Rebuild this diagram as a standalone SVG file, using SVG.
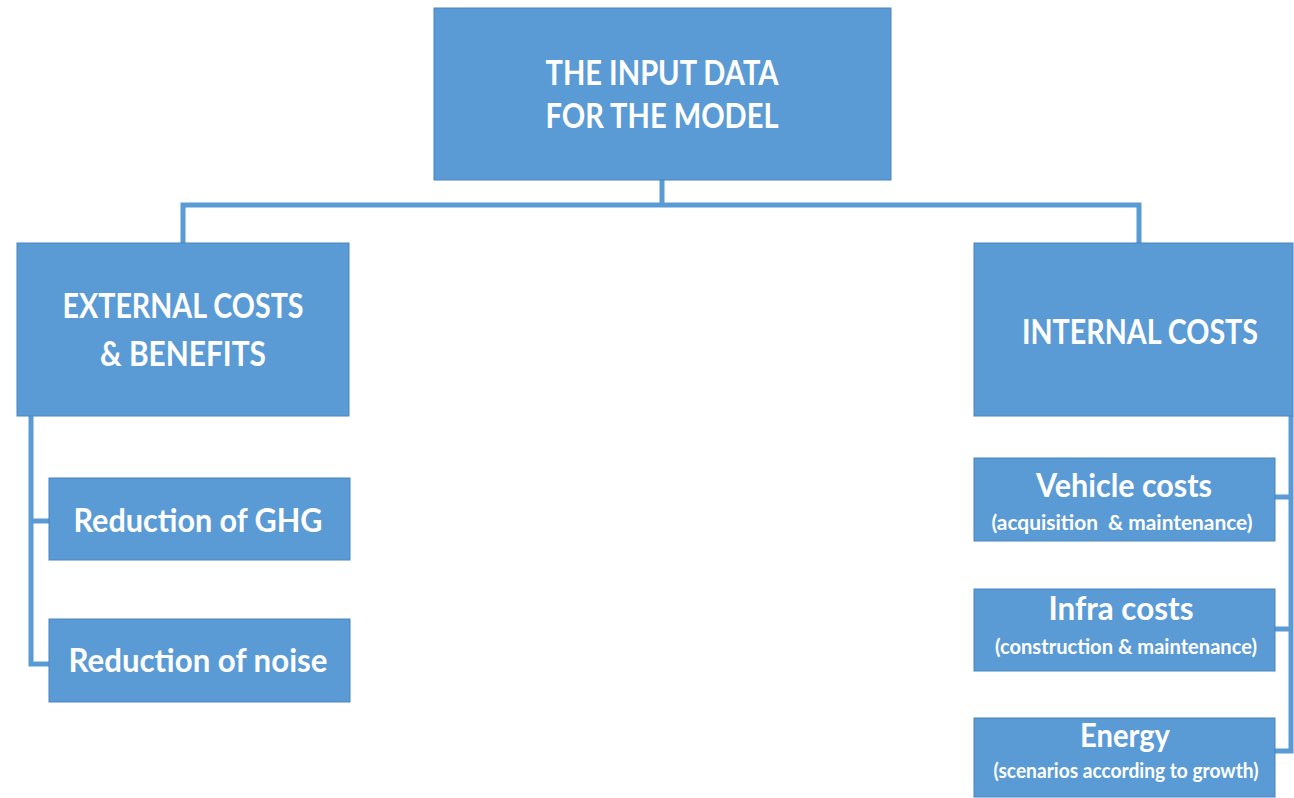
<svg xmlns="http://www.w3.org/2000/svg" width="1294" height="798" viewBox="0 0 1294 798">
  <style>
    .box { fill: #5b9bd5; stroke: #4a84bd; stroke-width: 1; }
    .link { fill: none; stroke: #5b9bd5; stroke-width: 5; stroke-linejoin: miter; }
    text { font-family: Lato, "Open Sans", "Liberation Sans", sans-serif; font-weight: bold; fill: #ffffff; text-anchor: middle; white-space: pre; }
    .big { font-size: 35px; }
    .mid { font-size: 32px; }
    .small { font-size: 21px; }
  </style>
  <rect width="1294" height="798" fill="#ffffff"/>

  <!-- tree connectors -->
  <g id="connectors">
    <path class="link" d="M662 180 V205 M183 243 V205 H1139 V243"/>
    <path class="link" d="M31 416 V664 H49 M31 521 H49"/>
    <path class="link" d="M1291 416 V751 H1275 M1275 497 H1291 M1275 629 H1291"/>
  </g>

  <g id="node-input">
    <rect class="box" x="434" y="8" width="457" height="172"/>
    <text class="big" x="662" y="85" textLength="233" lengthAdjust="spacingAndGlyphs">THE INPUT DATA</text>
    <text class="big" x="662" y="128" textLength="233" lengthAdjust="spacingAndGlyphs">FOR THE MODEL</text>
  </g>

  <g id="node-external">
    <rect class="box" x="17" y="243" width="332" height="173"/>
    <text class="big" x="183" y="318" textLength="241" lengthAdjust="spacingAndGlyphs">EXTERNAL COSTS</text>
    <text class="big" x="183" y="366" textLength="166" lengthAdjust="spacingAndGlyphs">&amp; BENEFITS</text>
  </g>

  <g id="node-internal">
    <rect class="box" x="974" y="243" width="319" height="173"/>
    <text class="big" x="1140" y="344" textLength="236" lengthAdjust="spacingAndGlyphs">INTERNAL COSTS</text>
  </g>

  <g id="node-ghg">
    <rect class="box" x="49" y="478" width="301" height="82"/>
    <text class="mid" x="198" y="532" textLength="249" lengthAdjust="spacingAndGlyphs">Reduction of GHG</text>
  </g>

  <g id="node-noise">
    <rect class="box" x="49" y="619" width="301" height="83"/>
    <text class="mid" x="198" y="672" textLength="259" lengthAdjust="spacingAndGlyphs">Reduction of noise</text>
  </g>

  <g id="node-vehicle">
    <rect class="box" x="974" y="458" width="301" height="83"/>
    <text class="mid" x="1124" y="497" textLength="176" lengthAdjust="spacingAndGlyphs">Vehicle costs</text>
    <text class="small" x="1122" y="530" textLength="261" lengthAdjust="spacingAndGlyphs">(acquisition  &amp; maintenance)</text>
  </g>

  <g id="node-infra">
    <rect class="box" x="974" y="589" width="301" height="82"/>
    <text class="mid" x="1121" y="620" textLength="145" lengthAdjust="spacingAndGlyphs">Infra costs</text>
    <text class="small" x="1126" y="654" textLength="262" lengthAdjust="spacingAndGlyphs">(construction &amp; maintenance)</text>
  </g>

  <g id="node-energy">
    <rect class="box" x="974" y="718" width="301" height="79"/>
    <text class="mid" x="1125" y="747" textLength="90" lengthAdjust="spacingAndGlyphs">Energy</text>
    <text class="small" x="1126" y="778" textLength="265" lengthAdjust="spacingAndGlyphs">(scenarios according to growth)</text>
  </g>
</svg>
